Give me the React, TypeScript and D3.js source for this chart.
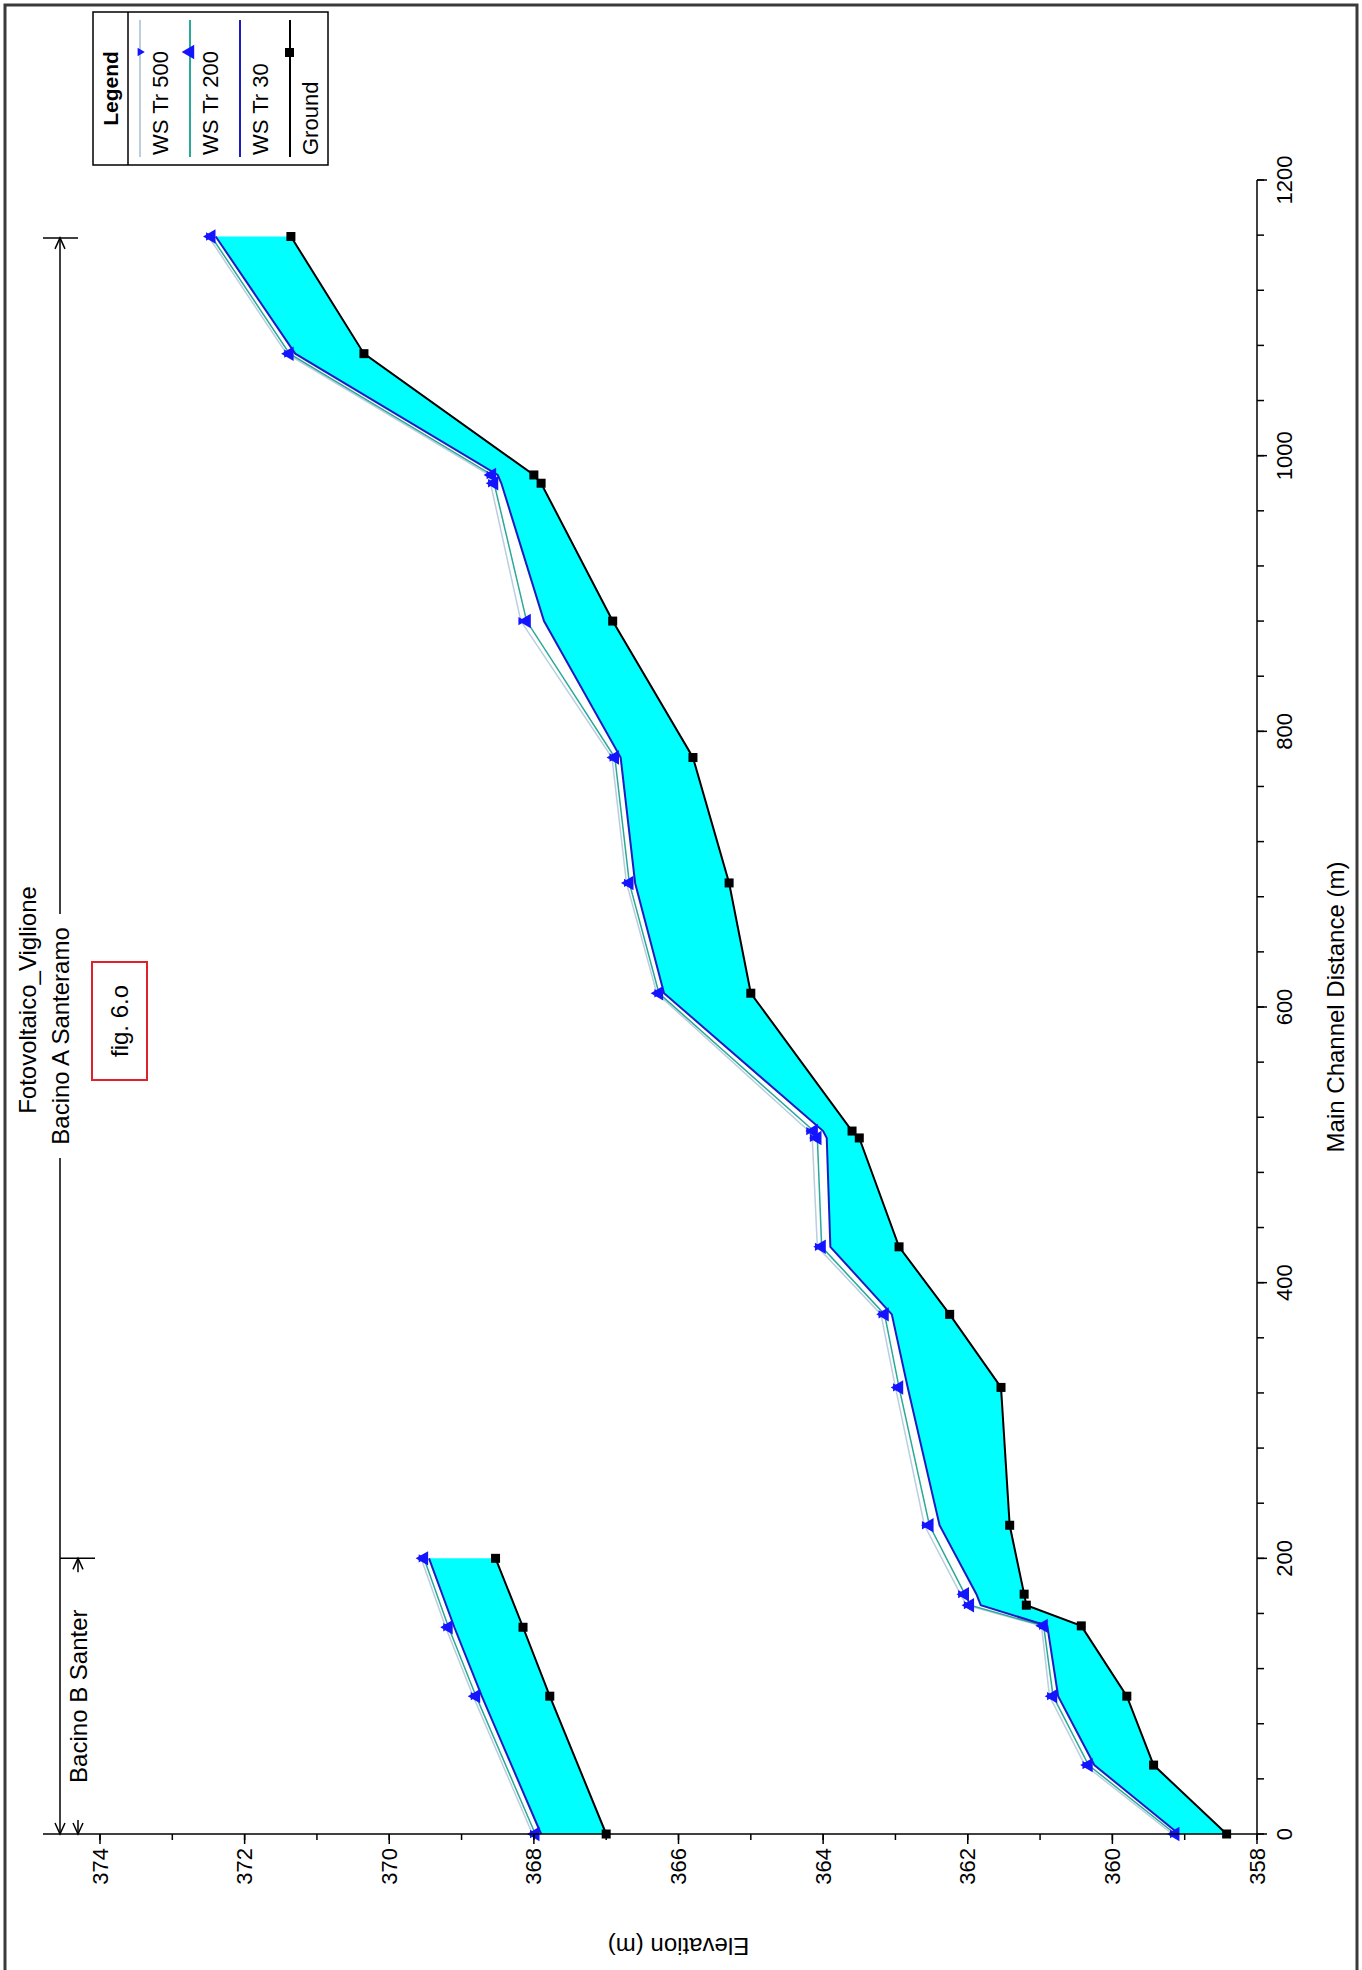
import React from "react";
import * as d3 from "d3";

const FONT = "'Liberation Sans', Arial, Helvetica, sans-serif";

// Main reach — Bacino A Santeramo
const distA = [0, 50, 100, 151, 166, 174, 224, 324, 377, 426, 505, 510, 610, 690, 781, 880, 980, 986, 1074, 1159];
const groundA = [358.42, 359.43, 359.8, 360.43, 361.19, 361.22, 361.42, 361.54, 362.25, 362.95, 363.5, 363.6, 365.0, 365.3, 365.8, 366.91, 367.9, 368.0, 370.35, 371.36];
const ws30A = [359.08, 360.25, 360.75, 360.9, 361.82, 361.88, 362.39, 362.83, 363.05, 363.9, 363.95, 364.0, 366.2, 366.6, 366.8, 367.86, 368.45, 368.5, 371.3, 372.4];
const ws200A = [359.13, 360.33, 360.82, 360.95, 361.97, 362.04, 362.53, 362.95, 363.15, 364.02, 364.08, 364.13, 366.27, 366.68, 366.88, 368.1, 368.55, 368.58, 371.38, 372.46];
const ws500A = [359.17, 360.38, 360.87, 360.98, 362.02, 362.1, 362.6, 363.0, 363.2, 364.08, 364.15, 364.2, 366.3, 366.72, 366.92, 368.18, 368.6, 368.62, 371.42, 372.5];

// Secondary reach — Bacino B Santer
const distB = [0, 100, 150, 200];
const groundB = [367.0, 367.78, 368.15, 368.53];
const ws30B = [367.9, 368.72, 369.1, 369.45];
const ws200B = [367.98, 368.8, 369.18, 369.52];
const ws500B = [368.02, 368.84, 369.22, 369.56];

const distTicks = [0, 200, 400, 600, 800, 1000, 1200];
const elevTicks = [358, 360, 362, 364, 366, 368, 370, 372, 374];
const legendLabels = ["WS  Tr 500", "WS  Tr 200", "WS  Tr 30", "Ground"];

const C_FILL = "#00ffff";
const C_30 = "#1c1cc0";
const C_200 = "#2aa898";
const C_500 = "#b9cfe0";
const C_MARK = "#1414ff";

export default function App() {
  const LW = 1970;
  const x = d3.scaleLinear().domain([0, 1200]).range([136, 1790]);
  const y = d3.scaleLinear().domain([358, 374]).range([1257, 100]);
  const axisY = y(358);
  const axisX = x(0);

  const reaches = [
    { d: distA, g: groundA, w30: ws30A, w200: ws200A, w500: ws500A },
    { d: distB, g: groundB, w30: ws30B, w200: ws200B, w500: ws500B },
  ];

  const line = (d: number[], v: number[]) =>
    d3.line<number>().x((_, i) => x(d[i])).y((vv) => y(vv))(v) as string;
  const area = (d: number[], lo: number[], hi: number[]) =>
    d3
      .area<number>()
      .x((_, i) => x(d[i]))
      .y0((_, i) => y(lo[i]))
      .y1((_, i) => y(hi[i]))(d) as string;

  const triUp = d3.symbol().type(d3.symbolTriangle).size(90)() as string;
  const triDown = d3.symbol().type(d3.symbolTriangle).size(30)() as string;

  const minorD = d3.range(0, 1201, 40);
  const minorE = d3.range(358, 375, 1);

  const fs = 22;
  const fsT = 24;

  // dimension lines
  const dimAY = 60;
  const dimBY = 78;
  const aEnd = x(1158);
  const aMid = (x(0) + aEnd) / 2;
  const bEnd = x(200);
  const bMid = (x(0) + bEnd) / 2;

  const arrowL = (X: number, Y: number) => `M${X + 11},${Y - 5}L${X},${Y}L${X + 11},${Y + 5}`;
  const arrowR = (X: number, Y: number) => `M${X - 11},${Y - 5}L${X},${Y}L${X - 11},${Y + 5}`;

  // legend in landscape coords
  const legX0 = 1805;
  const legX1 = 1958;
  const legY0 = 93;
  const headH = 35;
  const rowH = 50;
  const legY1 = legY0 + headH + rowH * 4;

  return (
    <svg
      width={1362}
      height={1970}
      style={{ position: "absolute", left: 0, top: 0, background: "#fff" }}
      fontFamily={FONT}
    >
      <rect x={0} y={0} width={1362} height={1970} fill="#fff" />
      <path d="M5,1970V5H1357V1970" fill="none" stroke="#3a3a3a" strokeWidth={3} />
      <g transform={`translate(0,${LW}) rotate(-90)`}>
        {/* fills */}
        {reaches.map((r, k) => (
          <path key={"f" + k} d={area(r.d, r.g, r.w30)} fill={C_FILL} stroke="none" />
        ))}
        {reaches.map((r, k) => (
          <g key={"l" + k} fill="none">
            <path d={line(r.d, r.w500)} stroke={C_500} strokeWidth={1.5} />
            <path d={line(r.d, r.w200)} stroke={C_200} strokeWidth={1.5} />
            <path d={line(r.d, r.w30)} stroke={C_30} strokeWidth={2} />
            <path d={line(r.d, r.g)} stroke="#000" strokeWidth={2} />
          </g>
        ))}
        {reaches.map((r, k) => (
          <g key={"m" + k}>
            {r.d.map((dd, i) => (
              <g key={i}>
                <path d={triUp} transform={`translate(${x(dd)},${y(r.w200[i])})`} fill={C_MARK} />
                <path d={triDown} transform={`translate(${x(dd)},${y(r.w500[i])}) rotate(180)`} fill={C_MARK} />
                <rect x={x(dd) - 4.5} y={y(r.g[i]) - 4.5} width={9} height={9} fill="#000" />
              </g>
            ))}
          </g>
        ))}

        {/* distance axis */}
        <line x1={axisX} x2={x(1200)} y1={axisY} y2={axisY} stroke="#000" strokeWidth={1.5} />
        {minorD.map((t) => (
          <line key={"md" + t} x1={x(t)} x2={x(t)} y1={axisY} y2={axisY + 7} stroke="#000" strokeWidth={1.5} />
        ))}
        {distTicks.map((t) => (
          <g key={"d" + t}>
            <line x1={x(t)} x2={x(t)} y1={axisY} y2={axisY + 10} stroke="#000" strokeWidth={1.5} />
            <text x={x(t)} y={axisY + 27} fontSize={fs} textAnchor="middle" dominantBaseline="central">
              {t}
            </text>
          </g>
        ))}
        <text x={(x(0) + x(1200)) / 2} y={1335} fontSize={fsT} textAnchor="middle" dominantBaseline="central">
          Main Channel Distance (m)
        </text>

        {/* elevation axis */}
        <line x1={axisX} x2={axisX} y1={axisY} y2={43} stroke="#000" strokeWidth={1.5} />
        {minorE.map((t) => (
          <line key={"me" + t} x1={axisX} x2={axisX - 6} y1={y(t)} y2={y(t)} stroke="#000" strokeWidth={1.5} />
        ))}
        {elevTicks.map((t) => (
          <g key={"e" + t}>
            <line x1={axisX} x2={axisX - 10} y1={y(t)} y2={y(t)} stroke="#000" strokeWidth={1.5} />
            <text x={axisX - 14} y={y(t)} fontSize={fs} textAnchor="end" dominantBaseline="central">
              {t}
            </text>
          </g>
        ))}
        <text
          transform={`translate(24,${(y(358) + y(374)) / 2}) rotate(-90)`}
          fontSize={fsT}
          textAnchor="middle"
          dominantBaseline="central"
        >
          Elevation (m)
        </text>

        {/* title */}
        <text x={970} y={27} fontSize={fsT} textAnchor="middle" dominantBaseline="central">
          Fotovoltaico_Viglione
        </text>

        {/* dimension A */}
        <g stroke="#000" strokeWidth={1.5} fill="none">
          <line x1={axisX} x2={aMid - 122} y1={dimAY} y2={dimAY} />
          <line x1={aMid + 122} x2={aEnd} y1={dimAY} y2={dimAY} />
          <path d={arrowL(axisX, dimAY)} />
          <path d={arrowR(aEnd, dimAY)} />
          <line x1={aEnd} x2={aEnd} y1={43} y2={78} />
          <line x1={axisX} x2={axisX + 14} y1={dimBY} y2={dimBY} />
          <line x1={bEnd - 14} x2={bEnd} y1={dimBY} y2={dimBY} />
          <path d={arrowL(axisX, dimBY)} />
          <path d={arrowR(bEnd, dimBY)} />
          <line x1={bEnd} x2={bEnd} y1={60} y2={95} />
        </g>
        <text x={aMid} y={dimAY} fontSize={fsT} textAnchor="middle" dominantBaseline="central">
          Bacino A Santeramo
        </text>
        <text x={bMid} y={dimBY} fontSize={fsT} textAnchor="middle" dominantBaseline="central">
          Bacino B Santer
        </text>

        {/* fig box */}
        <rect x={890} y={92} width={118} height={55} fill="none" stroke="#e0202a" strokeWidth={2} />
        <text x={949} y={119.5} fontSize={fsT} textAnchor="middle" dominantBaseline="central">
          fig. 6.o
        </text>

        {/* legend */}
        <rect x={legX0} y={legY0} width={legX1 - legX0} height={legY1 - legY0} fill="#fff" stroke="#000" strokeWidth={1.5} />
        <line x1={legX0} x2={legX1} y1={legY0 + headH} y2={legY0 + headH} stroke="#000" strokeWidth={1.5} />
        <text x={(legX0 + legX1) / 2} y={legY0 + headH / 2} fontSize={21} fontWeight="bold" textAnchor="middle" dominantBaseline="central">
          Legend
        </text>
        {legendLabels.map((lab, i) => {
          const ry = legY0 + headH + rowH * i;
          const col = [C_500, C_200, C_30, "#000"][i];
          return (
            <g key={"lg" + i}>
              <line x1={legX0 + 8} x2={legX1 - 8} y1={ry + 12} y2={ry + 12} stroke={col} strokeWidth={2} />
              {i === 0 && <path d={triDown} transform={`translate(${legX1 - 40},${ry + 12}) rotate(180)`} fill={C_MARK} />}
              {i === 1 && <path d={triUp} transform={`translate(${legX1 - 40},${ry + 12})`} fill={C_MARK} />}
              {i === 3 && <rect x={legX1 - 45} y={ry + 7} width={9} height={9} fill="#000" />}
              <text x={legX0 + 10} y={ry + 32} fontSize={22} dominantBaseline="central">
                {lab}
              </text>
            </g>
          );
        })}
      </g>
    </svg>
  );
}
